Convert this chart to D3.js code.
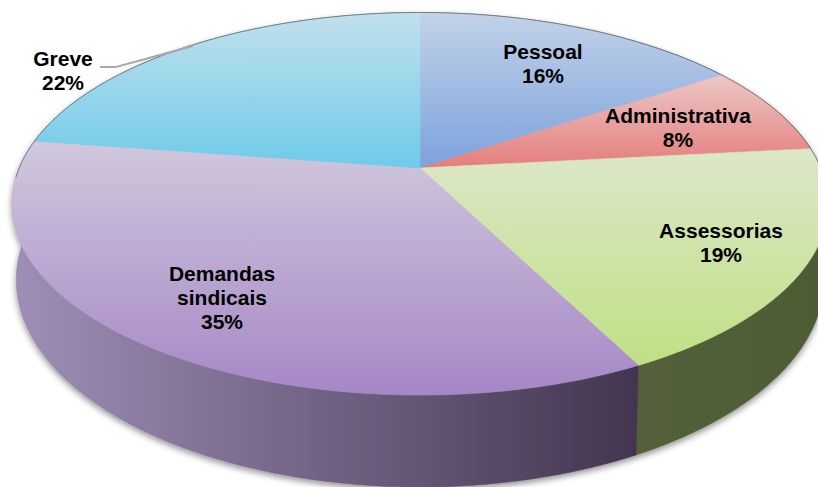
<!DOCTYPE html>
<html>
<head>
<meta charset="utf-8">
<script src="https://cdn.jsdelivr.net/npm/d3@7"></script>
<style>html,body{margin:0;padding:0;background:#fff}svg{display:block}</style>
</head>
<body>
<svg id="chart" width="818" height="487"></svg>
<script>
// Data
const categories = ["Pessoal", "Administrativa", "Assessorias", "Demandas sindicais", "Greve"];
// Printed on the chart
const printedPercent = [16, 8, 19, 35, 22];
const measuredShares = [15.6, 7.7, 19.2, 34.9, 22.6];
// Colours
const topLight = ["#c2d2e8", "#edc8c8", "#dce7c8", "#d1c8dd", "#c2e0ec"];
const topDeep  = ["#7da2dd", "#e47d7c", "#bfe085", "#a587c6", "#6ecbe9"];
const sideLight = ["#6f86ad", "#a86a6a", "#52613a", "#9f8fb6", "#5d9db5"];
const sideDark  = ["#4d5e7d", "#7c4c4c", "#4e5c35", "#433550", "#40748a"];

// Perspective disc projection
const cx = 420, apexY = 168, tilt = 0.187;
const topFace = {a: 400.8, b: 184.6, y0: apexY};
const baseFace = {a: 396.7, b: 199.8, y0: 241.3};
function project(face, angle, r) {
  const u = r * Math.sin(angle), v = -r * Math.cos(angle), w = 1 - tilt * v;
  return [cx + face.a * u / w, face.y0 + face.b * v / w];
}

const svg = d3.select("#chart");
const defs = svg.append("defs");
const shadow = defs.append("filter").attr("id", "shadow")
  .attr("x", "-5%").attr("y", "-5%").attr("width", "110%").attr("height", "110%");
shadow.append("feDropShadow").attr("dx", 0).attr("dy", 3).attr("stdDeviation", 3)
  .attr("flood-color", "#000").attr("flood-opacity", 0.42);

const arcs = d3.pie().sort(null)(measuredShares);
const line = d3.line();
function arcAngles(d) {
  const n = Math.max(2, Math.ceil((d.endAngle - d.startAngle) / 0.01));
  return d3.range(n + 1).map(i => d.startAngle + (d.endAngle - d.startAngle) * i / n);
}
function gradient(id, vertical, p1, p2, c1, c2) {
  const g = defs.append("linearGradient").attr("id", id).attr("gradientUnits", "userSpaceOnUse");
  if (vertical) g.attr("x1", 0).attr("x2", 0).attr("y1", p1).attr("y2", p2);
  else g.attr("y1", 0).attr("y2", 0).attr("x1", p1).attr("x2", p2);
  g.append("stop").attr("offset", 0).attr("stop-color", c1);
  g.append("stop").attr("offset", 1).attr("stop-color", c2);
}

const body = svg.append("g").attr("filter", "url(#shadow)");

// Side wall
arcs.forEach((d, i) => {
  const angles = arcAngles(d);
  const upper = angles.map(a => project(topFace, a, 1));
  const lower = angles.map(a => project(baseFace, a, 1)).reverse();
  const pts = upper.concat(lower);
  gradient("side" + i, false, d3.min(pts, p => p[0]), d3.max(pts, p => p[0]), sideLight[i], sideDark[i]);
  body.append("path").attr("d", line(pts) + "Z")
    .attr("fill", `url(#side${i})`).attr("stroke", `url(#side${i})`).attr("stroke-width", 0.6);
});

// Top face
arcs.forEach((d, i) => {
  const pts = [project(topFace, 0, 0)].concat(arcAngles(d).map(a => project(topFace, a, 1)));
  gradient("top" + i, true, d3.min(pts, p => p[1]), d3.max(pts, p => p[1]), topLight[i], topDeep[i]);
  body.append("path").attr("d", line(pts) + "Z")
    .attr("fill", `url(#top${i})`).attr("stroke", `url(#top${i})`).attr("stroke-width", 0.6);
});

// Thin dark rim along the back of the top face
const rimAngles = d3.range(-1.62, 1.62, 0.01);
svg.append("path").attr("d", line(rimAngles.map(a => project(topFace, a, 1))))
  .attr("fill", "none").attr("stroke", "#4a4a4a").attr("stroke-width", 0.8).attr("stroke-opacity", 0.75);

// Leader line for Greve
svg.append("path").attr("d", "M100,67L116,67L193,46")
  .attr("fill", "none").attr("stroke", "#a9a9a9").attr("stroke-width", 2);

// Labels
const labelLayout = [
  {x: 543, y: 59},
  {x: 678, y: 123},
  {x: 721, y: 238},
  {x: 222, y: 281},
  {x: 63,  y: 66}
];
const labels = svg.append("g")
  .attr("font-family", "'Liberation Sans', Arial, sans-serif")
  .attr("font-weight", "bold").attr("font-size", 21)
  .attr("fill", "#000").attr("text-anchor", "middle");
categories.forEach((name, i) => {
  const rows = name.split(" ").concat(printedPercent[i] + "%");
  const t = labels.append("text").attr("x", labelLayout[i].x).attr("y", labelLayout[i].y);
  rows.forEach((r, k) => t.append("tspan")
    .attr("x", labelLayout[i].x).attr("y", labelLayout[i].y + k * 24).text(r));
});
</script>
</body>
</html>
